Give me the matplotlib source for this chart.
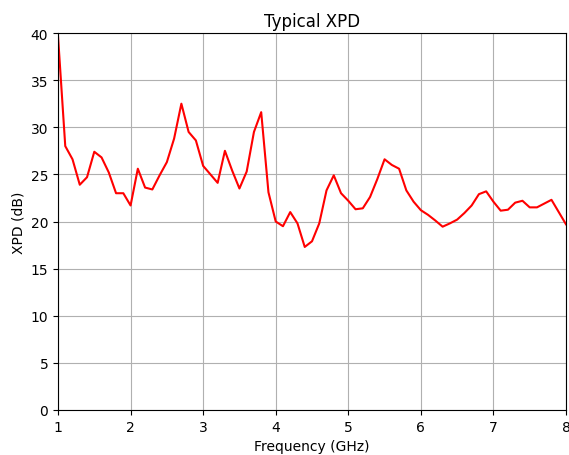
import matplotlib
matplotlib.use("Agg")
import matplotlib.pyplot as plt
import numpy as np

freq_ghz = [1.0, 1.1, 1.2, 1.3, 1.4, 1.5, 1.6, 1.7, 1.8, 1.9,
            2.0, 2.1, 2.2, 2.3, 2.4, 2.5, 2.6, 2.7, 2.8, 2.9,
            3.0, 3.1, 3.2, 3.3, 3.4, 3.5, 3.6, 3.7, 3.8, 3.9,
            4.0, 4.1, 4.2, 4.3, 4.4, 4.5, 4.6, 4.7, 4.8, 4.9,
            5.0, 5.1, 5.2, 5.3, 5.4, 5.5, 5.6, 5.7, 5.8, 5.9,
            6.0, 6.1, 6.2, 6.3, 6.4, 6.5, 6.6, 6.7, 6.8, 6.9,
            7.0, 7.1, 7.2, 7.3, 7.4, 7.5, 7.6, 7.7, 7.8, 7.9, 8.0]
xpd_db = [39.7, 28.0, 26.6, 23.9, 24.7, 27.4, 26.8, 25.2, 23.0, 23.0,
          21.7, 25.6, 23.6, 23.4, 24.9, 26.3, 28.8, 32.5, 29.5, 28.6,
          25.9, 25.0, 24.1, 27.5, 25.4, 23.5, 25.3, 29.5, 31.6, 23.1,
          20.0, 19.5, 21.0, 19.8, 17.3, 17.9, 19.8, 23.3, 24.9, 23.0,
          22.2, 21.3, 21.4, 22.6, 24.5, 26.6, 26.0, 25.6, 23.3, 22.1,
          21.2, 20.7, 20.1, 19.45, 19.8, 20.2, 20.9, 21.7, 22.9, 23.2,
          22.1, 21.15, 21.25, 22.0, 22.2, 21.5, 21.5, 21.9, 22.3, 21.0, 19.7]

fig = plt.figure(figsize=(5.69, 4.56), dpi=100)
ax = fig.add_axes([58/569, 1 - 411/456, (566-58)/569, (411-34)/456])
ax.plot(freq_ghz, xpd_db, color="red", linewidth=1.5)
ax.set_xlim(1, 8)
ax.set_ylim(0, 40)
ax.set_xticks(range(1, 9))
ax.set_yticks(range(0, 41, 5))
ax.grid(True, color="#b0b0b0", linewidth=0.8)
ax.set_title("Typical XPD", fontsize=12, pad=5)
ax.set_xlabel("Frequency (GHz)", fontsize=10)
ax.set_ylabel("XPD (dB)", fontsize=10)
fig.savefig("out.png", dpi=100)
